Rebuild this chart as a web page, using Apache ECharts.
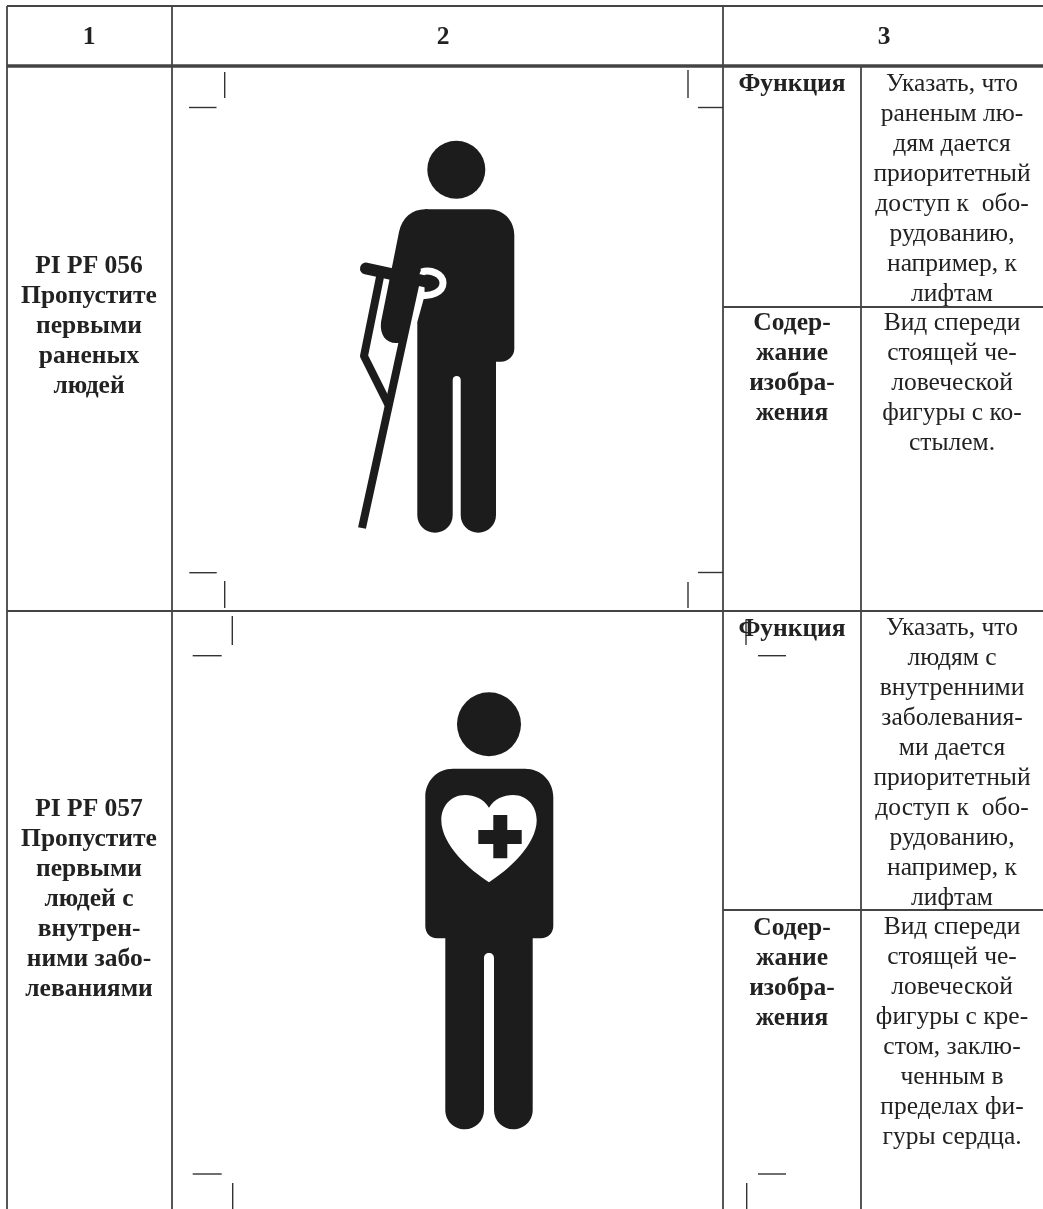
<!DOCTYPE html>
<html style="height: 100%">
<head>
    <meta charset="UTF-8">
    <title>PI PF 056, PI PF 057</title>
    <script src="https://cdn.jsdelivr.net/npm/echarts/dist/echarts.min.js"></script>
    <style>
        #main {
            height: 100%;
        }
    </style>
</head>
<body style="height: 100%; margin: 0; background: #fff">
    <div id="main"></div>
    <script type="text/javascript">
        // all values below are in axis units, the axes run 0..1043 and 0..1209
        var headerLabels = ['1', '2', '3'];
        var code056 = ['PI PF 056', 'Пропустите', 'первыми', 'раненых', 'людей'];
        var code057 = ['PI PF 057', 'Пропустите', 'первыми', 'людей с', 'внутрен-', 'ними забо-', 'леваниями'];
        var functionHead = ['Функция'];
        var contentHead = ['Содер-', 'жание', 'изобра-', 'жения'];
        var function056 = ['Указать, что', 'раненым лю-', 'дям дается', 'приоритетный', 'доступ к  обо-', 'рудованию,', 'например, к', 'лифтам'];
        var content056 = ['Вид спереди', 'стоящей че-', 'ловеческой', 'фигуры с ко-', 'стылем.'];
        var function057 = ['Указать, что', 'людям с', 'внутренними', 'заболевания-', 'ми дается', 'приоритетный', 'доступ к  обо-', 'рудованию,', 'например, к', 'лифтам'];
        var content057 = ['Вид спереди', 'стоящей че-', 'ловеческой', 'фигуры с кре-', 'стом, заклю-', 'ченным в', 'пределах фи-', 'гуры сердца.'];

        var tableRules = [
            [7, 6, 1043, 6], [7, 6, 7, 1209], [172, 6, 172, 1209], [723, 6, 723, 1209],
            [861, 66, 861, 1209], [723, 307, 1043, 307], [7, 611, 1043, 611], [723, 910, 1043, 910]
        ];
        var headerRule = [[7, 66, 1043, 66]];
        var cropMarks = [
            [224.7, 72, 224.7, 98], [189, 107.5, 216.5, 107.5], [688, 70, 688, 98], [698, 107.5, 723, 107.5],
            [189.3, 572.7, 216.7, 572.7], [224.7, 581, 224.7, 608], [698, 572.5, 723, 572.5], [688, 582, 688, 608],
            [232.3, 616, 232.3, 645], [192.7, 655.7, 221.7, 655.7], [746, 620, 746, 645], [758, 655.7, 786, 655.7],
            [192.7, 1174, 221.7, 1174], [232.7, 1183, 232.7, 1209], [758, 1174, 786, 1174], [746.7, 1183, 746.7, 1209]
        ];

        var heads = [[456.3, 169.7, 29], [489, 724.3, 32]];
        var torso056 = [
            ['M', 425, 209.3], ['L', 489, 209.3], ['C', 504, 209.3, 514.3, 221, 514.3, 235],
            ['L', 514.3, 349], ['C', 514.3, 356, 508, 361.7, 501, 361.7], ['L', 496, 361.7],
            ['L', 496, 515], ['C', 496, 525, 488, 532.7, 478.3, 532.7], ['C', 468.5, 532.7, 460.7, 525, 460.7, 515],
            ['L', 460.7, 380], ['C', 460.7, 377.5, 458.9, 376, 456.7, 376], ['C', 454.5, 376, 452.7, 377.5, 452.7, 380],
            ['L', 452.7, 515], ['C', 452.7, 525, 445, 532.7, 435, 532.7], ['C', 425, 532.7, 417.3, 525, 417.3, 515],
            ['L', 417.3, 322], ['L', 424.5, 296], ['Z']
        ];
        var arm056 = [
            ['M', 428, 209.3], ['L', 425, 209.3], ['C', 412, 209.3, 402, 218, 399, 232], ['L', 381, 322],
            ['C', 379.5, 335, 386, 343, 396, 343], ['L', 403, 343], ['L', 416, 283], ['L', 421, 270], ['L', 428, 270], ['Z']
        ];
        var handleArc056 = [['M', 421.5, 272], ['C', 431, 269, 443, 274, 443, 283], ['C', 443, 292, 431, 297, 420, 295]];
        var handle056 = [['M', 366, 268.5], ['L', 428, 282]];
        var rail056 = [['M', 416, 281], ['L', 362, 528]];
        var brace056 = [['M', 381, 272], ['L', 364, 356], ['L', 389, 406]];
        var body057 = [
            ['M', 453, 768.7], ['L', 525, 768.7], ['C', 541, 768.7, 553.3, 781, 553.3, 797],
            ['L', 553.3, 926], ['C', 553.3, 933, 548, 938.3, 541, 938.3], ['L', 532.7, 938.3],
            ['L', 532.7, 1110], ['C', 532.7, 1121, 524, 1129.3, 513.3, 1129.3], ['C', 502.7, 1129.3, 494, 1121, 494, 1110],
            ['L', 494, 958], ['C', 494, 955, 492, 953, 489, 953], ['C', 486, 953, 484, 955, 484, 958],
            ['L', 484, 1110], ['C', 484, 1121, 475.5, 1129.3, 464.7, 1129.3], ['C', 454, 1129.3, 445.3, 1121, 445.3, 1110],
            ['L', 445.3, 938.3], ['L', 437, 938.3], ['C', 430, 938.3, 425.3, 933, 425.3, 926],
            ['L', 425.3, 797], ['C', 425.3, 781, 437, 768.7, 453, 768.7], ['Z']
        ];
        var heart057 = [
            ['M', 489, 807.7], ['C', 484, 799, 474, 795, 465, 795], ['C', 451, 795, 441.3, 806, 441.3, 820],
            ['C', 441.3, 845, 470, 870, 489, 882.3], ['C', 508, 870, 536.7, 845, 536.7, 820],
            ['C', 536.7, 806, 527, 795, 513, 795], ['C', 504, 795, 494, 799, 489, 807.7], ['Z']
        ];
        var cross057 = [
            ['M', 493.3, 815], ['L', 507.3, 815], ['L', 507.3, 830], ['L', 521.7, 830], ['L', 521.7, 844], ['L', 507.3, 844],
            ['L', 507.3, 858.3], ['L', 493.3, 858.3], ['L', 493.3, 844], ['L', 478.3, 844], ['L', 478.3, 830], ['L', 493.3, 830], ['Z']
        ];

        var serif = '"Liberation Serif", serif';
        var ink = '#222';
        var lineColor = '#444';

        function segToPath(s) {
            return [['M', s[0], s[1]], ['L', s[2], s[3]]];
        }

        function toPathData(cmds, api) {
            return cmds.map(function (c) {
                var out = c[0];
                for (var i = 1; i < c.length; i += 2) {
                    var p = api.coord([c[i], c[i + 1]]);
                    out += (i > 1 ? ' ' : '') + p[0] + ' ' + p[1];
                }
                return out;
            }).join(' ');
        }

        function pathSeries(name, paths, style, z) {
            return {
                type: 'custom',
                name: name,
                coordinateSystem: 'cartesian2d',
                clip: false,
                silent: true,
                z: z,
                data: paths.map(function (p, i) { return [i]; }),
                renderItem: function (params, api) {
                    return {
                        type: 'path',
                        shape: { pathData: toPathData(paths[params.dataIndex], api) },
                        style: style
                    };
                }
            };
        }

        function textSeries(name, rows, font) {
            return {
                type: 'custom',
                name: name,
                coordinateSystem: 'cartesian2d',
                clip: false,
                silent: true,
                z: 10,
                data: rows,
                renderItem: function (params, api) {
                    var p = api.coord([api.value(0), api.value(1)]);
                    return {
                        type: 'text',
                        x: p[0],
                        y: p[1],
                        style: {
                            text: rows[params.dataIndex][2],
                            font: font,
                            fill: ink,
                            align: 'center',
                            verticalAlign: 'middle'
                        }
                    };
                }
            };
        }

        function block(lines, x, top) {
            return lines.map(function (t, i) { return [x, top + i * 30, t]; });
        }

        var boldRows = [].concat(
            [[89, 37, headerLabels[0]], [443, 37, headerLabels[1]], [884, 37, headerLabels[2]]],
            block(code056, 89, 266), block(code057, 89, 809),
            block(functionHead, 792, 84), block(contentHead, 792, 323),
            block(functionHead, 792, 629), block(contentHead, 792, 928)
        );
        var plainRows = [].concat(
            block(function056, 952, 84), block(content056, 952, 323),
            block(function057, 952, 628), block(content057, 952, 927)
        );

        var myChart = echarts.init(document.getElementById('main'));
        var option = {
            animation: false,
            backgroundColor: '#fff',
            grid: { left: 0, right: 0, top: 0, bottom: 0 },
            xAxis: { type: 'value', min: 0, max: 1043, show: false },
            yAxis: { type: 'value', min: 0, max: 1209, inverse: true, show: false },
            series: [
                pathSeries('rules', tableRules.map(segToPath), { fill: 'none', stroke: lineColor, lineWidth: 1.8 }, 1),
                pathSeries('headerRule', headerRule.map(segToPath), { fill: 'none', stroke: lineColor, lineWidth: 3.5 }, 1),
                pathSeries('cropMarks', cropMarks.map(segToPath), { fill: 'none', stroke: '#333', lineWidth: 1.4 }, 2),
                {
                    type: 'custom',
                    name: 'heads',
                    coordinateSystem: 'cartesian2d',
                    clip: false,
                    silent: true,
                    z: 3,
                    data: heads,
                    renderItem: function (params, api) {
                        var c = api.coord([api.value(0), api.value(1)]);
                        return {
                            type: 'circle',
                            shape: { cx: c[0], cy: c[1], r: api.size([api.value(2), 0])[0] },
                            style: { fill: '#1c1c1c' }
                        };
                    }
                },
                pathSeries('figures', [torso056, arm056, body057], { fill: '#1c1c1c' }, 3),
                pathSeries('heart', [heart057], { fill: '#fff' }, 4),
                pathSeries('handleArc', [handleArc056], { fill: 'none', stroke: '#fff', lineWidth: 7 }, 4),
                pathSeries('cross', [cross057], { fill: '#1c1c1c' }, 5),
                pathSeries('handle', [handle056], { fill: 'none', stroke: '#1c1c1c', lineWidth: 12, lineCap: 'round' }, 5),
                pathSeries('crutch', [rail056, brace056], { fill: 'none', stroke: '#1c1c1c', lineWidth: 8, lineJoin: 'round' }, 5),
                textSeries('boldText', boldRows, 'bold 25.5px ' + serif),
                textSeries('plainText', plainRows, '25.5px ' + serif)
            ]
        };

        myChart.setOption(option);
    </script>
</body>
</html>
